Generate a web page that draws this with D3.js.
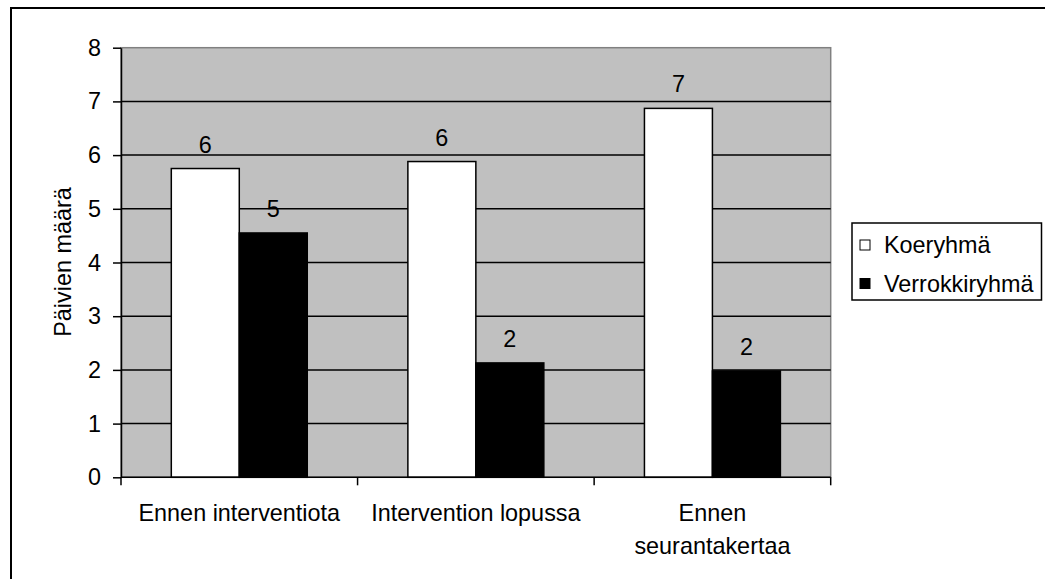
<!DOCTYPE html>
<html><head><meta charset="utf-8">
<script src="https://cdn.jsdelivr.net/npm/d3@7"></script>
<style>body{margin:0;background:#fff}svg{display:block}text{font-family:"Liberation Sans",Arial,sans-serif;fill:#000}</style>
</head><body><svg id="c" width="1045" height="579"></svg>
<script>
const categories = [["Ennen interventiota"], ["Intervention lopussa"], ["Ennen", "seurantakertaa"]];
const seriesNames = ["Koeryhmä", "Verrokkiryhmä"];
const koeryhma = [5.75, 5.88, 6.87];
const verrokkiryhma = [4.55, 2.13, 1.98];
const valueLabels = [["6", "5"], ["6", "2"], ["7", "2"]];
const yTicks = [0, 1, 2, 3, 4, 5, 6, 7, 8];
const yTitle = "Päivien määrä";

const svg = d3.select("#c");
const fs = 23.4;
const L = 121, R = 830.7, T = 47.7, B = 477.3;

svg.append("rect").attr("x", 11).attr("y", 8).attr("width", 1200).attr("height", 800)
  .attr("fill", "none").attr("stroke", "#000").attr("stroke-width", 2);

const x0 = d3.scaleBand().domain(d3.range(categories.length)).range([L, R]).padding(0);
const x1 = d3.scaleBand().domain(seriesNames).range([0, x0.bandwidth()]).paddingInner(0).paddingOuter(0.74);
const y = d3.scaleLinear().domain([0, 8]).range([B, T]);
const colors = {"Koeryhmä": "#fff", "Verrokkiryhmä": "#000"};

// plot area
svg.append("rect").attr("x", L).attr("y", T).attr("width", R - L).attr("height", B - T)
  .attr("fill", "#c0c0c0").attr("stroke", "#808080").attr("stroke-width", 1.5);

// gridlines
svg.append("g").selectAll("line").data(yTicks.filter(d => d > 0 && d < 8)).join("line")
  .attr("x1", L).attr("x2", R).attr("y1", d => y(d)).attr("y2", d => y(d))
  .attr("stroke", "#000").attr("stroke-width", 1.5);

// bars
const rows = categories.map((c, i) => ({i, vals: [koeryhma[i], verrokkiryhma[i]]}));
const g = svg.append("g").selectAll("g").data(rows).join("g")
  .attr("transform", d => `translate(${x0(d.i)},0)`);
g.selectAll("rect").data(d => d.vals.map((v, k) => ({k, v, name: seriesNames[k]}))).join("rect")
  .attr("x", d => x1(d.name)).attr("width", x1.bandwidth())
  .attr("y", d => y(d.v)).attr("height", d => y(0) - y(d.v))
  .attr("fill", d => colors[d.name]).attr("stroke", "#000").attr("stroke-width", 1.5);
g.selectAll("text").data(d => d.vals.map((v, k) => ({k, v, name: seriesNames[k], lab: valueLabels[d.i][k]}))).join("text")
  .attr("x", d => x1(d.name) + x1.bandwidth() / 2).attr("y", d => y(d.v) - 16)
  .attr("text-anchor", "middle").style("font-size", fs + "px").text(d => d.lab);

// y axis
const yAxis = svg.append("g").attr("transform", `translate(${L},0)`)
  .call(d3.axisLeft(y).tickValues(yTicks).tickSize(8).tickPadding(12).tickSizeOuter(0));
yAxis.select(".domain").attr("stroke", "#000").attr("stroke-width", 1.5);
yAxis.selectAll(".tick line").attr("stroke", "#000").attr("stroke-width", 1.5);
yAxis.selectAll(".tick text").style("font-size", fs + "px").attr("font-family", null);

// x axis
const xb = svg.append("g");
xb.append("line").attr("x1", L).attr("x2", R).attr("y1", B).attr("y2", B).attr("stroke", "#000").attr("stroke-width", 1.5);
const bounds = d3.range(categories.length + 1).map(i => i < categories.length ? x0(i) : x0(i - 1) + x0.bandwidth());
xb.selectAll("line.t").data(bounds).join("line").attr("class", "t")
  .attr("x1", d => d).attr("x2", d => d).attr("y1", B).attr("y2", B + 8).attr("stroke", "#000").attr("stroke-width", 1.5);
const xl = xb.selectAll("text").data(categories.map((c, i) => ({c, i}))).join("text")
  .attr("text-anchor", "middle").style("font-size", fs + "px")
  .attr("transform", d => `translate(${x0(d.i) + x0.bandwidth() / 2},521)`);
xl.selectAll("tspan").data(d => d.c).join("tspan").attr("x", 0).attr("dy", (d, j) => j === 0 ? 0 : 33).text(d => d);

// y title
svg.append("text").attr("transform", "translate(71,262) rotate(-90)").attr("text-anchor", "middle")
  .style("font-size", fs + "px").text(yTitle);

// legend
const lg = svg.append("g");
lg.append("rect").attr("x", 852).attr("y", 223).attr("width", 189.5).attr("height", 77)
  .attr("fill", "#fff").attr("stroke", "#000").attr("stroke-width", 1.5);
const li = lg.selectAll("g").data(seriesNames).join("g")
  .attr("transform", (d, i) => `translate(0,${253 + i * 38.5})`);
li.append("rect").attr("x", 860).attr("y", -13).attr("width", 10).attr("height", 10)
  .attr("fill", d => colors[d]).attr("stroke", "#000").attr("stroke-width", 1);
li.append("text").attr("x", 884).attr("y", 0).style("font-size", fs + "px").text(d => d);
</script></body></html>
